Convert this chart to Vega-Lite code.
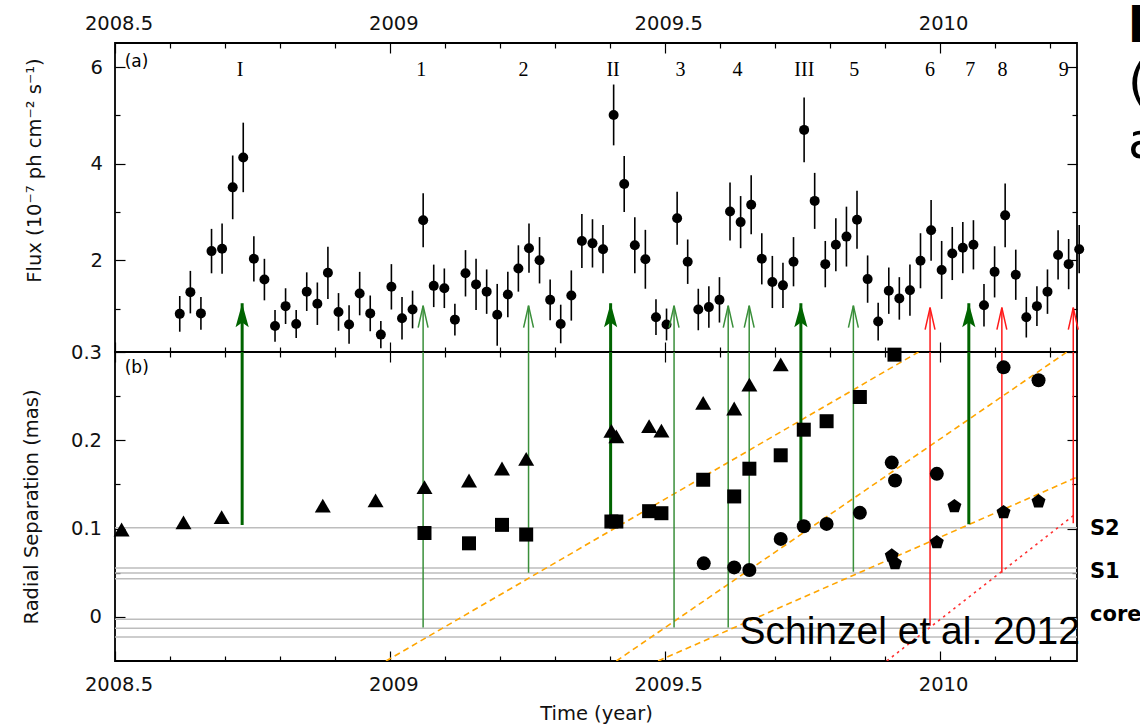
{
"$schema": "https://vega.github.io/schema/vega-lite/v6.json",
"padding": {"left": 20, "top": 2, "right": 0, "bottom": 0},
"background": "white",
"spacing": 0,
"bounds": "flush",
"config": {
  "view": {"stroke": "black", "strokeWidth": 1.8},
  "axis": {"grid": false, "domain": false, "tickColor": "black", "tickWidth": 1.2, "labelFont": "DejaVu Sans", "labelFontSize": 19.5, "labelColor": "#111111", "titleFont": "DejaVu Sans", "titleFontSize": 19.5, "titleFontWeight": "normal", "titleColor": "#111111", "labelFlush": false, "labelOverlap": false}
},
"datasets": {
  "flux": [
{"t":2008.6178,"f":0.89,"lo":0.52,"hi":1.26},
{"t":2008.6371,"f":1.34,"lo":0.90,"hi":1.78},
{"t":2008.6563,"f":0.90,"lo":0.56,"hi":1.24},
{"t":2008.6756,"f":2.19,"lo":1.73,"hi":2.65},
{"t":2008.6948,"f":2.24,"lo":1.72,"hi":2.76},
{"t":2008.7141,"f":3.51,"lo":2.85,"hi":4.17},
{"t":2008.7333,"f":4.13,"lo":3.41,"hi":4.85},
{"t":2008.7526,"f":2.03,"lo":1.56,"hi":2.50},
{"t":2008.7718,"f":1.60,"lo":1.17,"hi":2.03},
{"t":2008.7911,"f":0.64,"lo":0.31,"hi":0.97},
{"t":2008.8103,"f":1.05,"lo":0.68,"hi":1.42},
{"t":2008.8296,"f":0.68,"lo":0.39,"hi":0.97},
{"t":2008.8488,"f":1.35,"lo":0.95,"hi":1.75},
{"t":2008.8681,"f":1.10,"lo":0.66,"hi":1.54},
{"t":2008.8873,"f":1.74,"lo":1.20,"hi":2.28},
{"t":2008.9066,"f":0.93,"lo":0.54,"hi":1.32},
{"t":2008.9258,"f":0.67,"lo":0.27,"hi":1.07},
{"t":2008.9451,"f":1.31,"lo":0.86,"hi":1.76},
{"t":2008.9643,"f":0.90,"lo":0.53,"hi":1.27},
{"t":2008.9836,"f":0.46,"lo":0.18,"hi":0.74},
{"t":2009.0028,"f":1.45,"lo":0.98,"hi":1.92},
{"t":2009.0221,"f":0.80,"lo":0.36,"hi":1.24},
{"t":2009.0413,"f":0.98,"lo":0.59,"hi":1.37},
{"t":2009.0606,"f":2.83,"lo":2.27,"hi":3.39},
{"t":2009.0798,"f":1.47,"lo":1.03,"hi":1.91},
{"t":2009.0991,"f":1.42,"lo":1.01,"hi":1.83},
{"t":2009.1183,"f":0.77,"lo":0.44,"hi":1.10},
{"t":2009.1376,"f":1.73,"lo":1.25,"hi":2.21},
{"t":2009.1568,"f":1.50,"lo":0.97,"hi":2.03},
{"t":2009.1761,"f":1.35,"lo":0.89,"hi":1.81},
{"t":2009.1953,"f":0.87,"lo":0.23,"hi":1.51},
{"t":2009.2146,"f":1.29,"lo":0.82,"hi":1.76},
{"t":2009.2338,"f":1.83,"lo":1.35,"hi":2.31},
{"t":2009.2531,"f":2.25,"lo":1.74,"hi":2.76},
{"t":2009.2723,"f":2.00,"lo":1.52,"hi":2.48},
{"t":2009.2916,"f":1.18,"lo":0.76,"hi":1.60},
{"t":2009.3108,"f":0.68,"lo":0.28,"hi":1.08},
{"t":2009.3301,"f":1.27,"lo":0.75,"hi":1.79},
{"t":2009.3493,"f":2.40,"lo":1.84,"hi":2.96},
{"t":2009.3686,"f":2.35,"lo":1.85,"hi":2.85},
{"t":2009.3878,"f":2.23,"lo":1.73,"hi":2.73},
{"t":2009.4071,"f":5.01,"lo":4.38,"hi":5.64},
{"t":2009.4263,"f":3.58,"lo":3.00,"hi":4.16},
{"t":2009.4456,"f":2.31,"lo":1.73,"hi":2.89},
{"t":2009.4648,"f":2.02,"lo":1.41,"hi":2.63},
{"t":2009.4841,"f":0.82,"lo":0.45,"hi":1.19},
{"t":2009.5033,"f":0.67,"lo":0.34,"hi":1.00},
{"t":2009.5226,"f":2.87,"lo":2.32,"hi":3.42},
{"t":2009.5418,"f":1.97,"lo":1.51,"hi":2.43},
{"t":2009.5611,"f":0.98,"lo":0.55,"hi":1.41},
{"t":2009.5803,"f":1.03,"lo":0.60,"hi":1.46},
{"t":2009.5996,"f":1.18,"lo":0.71,"hi":1.65},
{"t":2009.6188,"f":3.01,"lo":2.41,"hi":3.61},
{"t":2009.6381,"f":2.79,"lo":2.25,"hi":3.33},
{"t":2009.6573,"f":3.15,"lo":2.54,"hi":3.76},
{"t":2009.6766,"f":2.03,"lo":1.50,"hi":2.56},
{"t":2009.6958,"f":1.55,"lo":1.01,"hi":2.09},
{"t":2009.7151,"f":1.48,"lo":1.01,"hi":1.95},
{"t":2009.7343,"f":1.97,"lo":1.46,"hi":2.48},
{"t":2009.7536,"f":4.70,"lo":4.03,"hi":5.37},
{"t":2009.7728,"f":3.23,"lo":2.65,"hi":3.81},
{"t":2009.7921,"f":1.92,"lo":1.44,"hi":2.40},
{"t":2009.8113,"f":2.32,"lo":1.77,"hi":2.87},
{"t":2009.8306,"f":2.49,"lo":1.87,"hi":3.11},
{"t":2009.8498,"f":2.84,"lo":2.24,"hi":3.44},
{"t":2009.8691,"f":1.61,"lo":1.12,"hi":2.10},
{"t":2009.8883,"f":0.73,"lo":0.34,"hi":1.12},
{"t":2009.9076,"f":1.37,"lo":0.89,"hi":1.85},
{"t":2009.9268,"f":1.21,"lo":0.77,"hi":1.65},
{"t":2009.9461,"f":1.38,"lo":0.85,"hi":1.91},
{"t":2009.9653,"f":1.99,"lo":1.42,"hi":2.56},
{"t":2009.9846,"f":2.62,"lo":1.99,"hi":3.25},
{"t":2010.0038,"f":1.80,"lo":1.20,"hi":2.40},
{"t":2010.0231,"f":2.14,"lo":1.59,"hi":2.69},
{"t":2010.0423,"f":2.26,"lo":1.73,"hi":2.79},
{"t":2010.0616,"f":2.32,"lo":1.81,"hi":2.83},
{"t":2010.0808,"f":1.07,"lo":0.63,"hi":1.51},
{"t":2010.1001,"f":1.76,"lo":1.23,"hi":2.29},
{"t":2010.1193,"f":2.93,"lo":2.27,"hi":3.59},
{"t":2010.1386,"f":1.70,"lo":1.18,"hi":2.22},
{"t":2010.1578,"f":0.82,"lo":0.40,"hi":1.24},
{"t":2010.1771,"f":1.05,"lo":0.64,"hi":1.46},
{"t":2010.1963,"f":1.35,"lo":0.89,"hi":1.81},
{"t":2010.2156,"f":2.11,"lo":1.60,"hi":2.62},
{"t":2010.2348,"f":1.92,"lo":1.40,"hi":2.44},
{"t":2010.254,"f":2.23,"lo":1.73,"hi":2.73}
  ],
  "arrows": [
{"t":2008.7313,"tip":1.11,"end":0.104,"kind":"thick"},
{"t":2009.0605,"tip":1.06,"end":-0.012,"kind":"thin"},
{"t":2009.2523,"tip":1.06,"end":0.050,"kind":"thin"},
{"t":2009.4016,"tip":1.11,"end":0.107,"kind":"thick"},
{"t":2009.517,"tip":1.06,"end":-0.012,"kind":"thin"},
{"t":2009.6155,"tip":1.06,"end":-0.012,"kind":"thin"},
{"t":2009.6537,"tip":1.06,"end":0.052,"kind":"thin"},
{"t":2009.7477,"tip":1.11,"end":0.103,"kind":"thick"},
{"t":2009.8432,"tip":1.06,"end":0.051,"kind":"thin"},
{"t":2009.9827,"tip":1.02,"end":-0.010,"kind":"red"},
{"t":2010.0532,"tip":1.11,"end":0.105,"kind":"thick"},
{"t":2010.1133,"tip":1.02,"end":0.050,"kind":"red"},
{"t":2010.2432,"tip":1.02,"end":0.106,"kind":"red"}
  ],
  "labels": [
{"t":2008.7277,"f":5.82,"lab":"I"},{"t":2009.057,"f":5.82,"lab":"1"},{"t":2009.2432,"f":5.82,"lab":"2"},{"t":2009.406,"f":5.82,"lab":"II"},
{"t":2009.5286,"f":5.82,"lab":"3"},{"t":2009.6324,"f":5.82,"lab":"4"},{"t":2009.754,"f":5.82,"lab":"III"},{"t":2009.845,"f":5.82,"lab":"5"},
{"t":2009.9827,"f":5.82,"lab":"6"},{"t":2010.0556,"f":5.82,"lab":"7"},{"t":2010.1146,"f":5.82,"lab":"8"},{"t":2010.2257,"f":5.82,"lab":"9"}
  ],
  "notesA": [{"t":2008.5177,"f":6.11,"txt":"(a)"}],
  "notesK": [{"t":2010.25,"f":6.53,"txt":"k"}],
  "notesP": [{"t":2010.25,"f":5.35,"txt":"("},{"t":2010.25,"f":4.12,"txt":"a"}],
  "hlines": [{"r":0.1008},{"r":0.0553},{"r":0.0497},{"r":0.0432},{"r":-0.0026},{"r":-0.0128},{"r":-0.0227}],
  "olines": [
{"g":"A","t":2008.993,"r":-0.05},{"g":"A","t":2009.9616,"r":0.3},
{"g":"B","t":2009.412,"r":-0.05},{"g":"B","t":2010.2317,"r":0.3},
{"g":"C","t":2009.488,"r":-0.05},{"g":"C","t":2010.25,"r":0.1583}
  ],
  "rline": [{"t":2009.904,"r":-0.05},{"t":2010.244,"r":0.115}],
  "sep": [
{"s":"triangle","t":2008.512,"r":0.0989},{"s":"triangle","t":2008.6246,"r":0.107},{"s":"triangle","t":2008.694,"r":0.113},
{"s":"triangle","t":2008.878,"r":0.126},{"s":"triangle","t":2008.974,"r":0.132},{"s":"triangle","t":2009.063,"r":0.147},
{"s":"triangle","t":2009.144,"r":0.1545},{"s":"triangle","t":2009.204,"r":0.168},{"s":"triangle","t":2009.248,"r":0.179},
{"s":"triangle","t":2009.403,"r":0.2106},{"s":"triangle","t":2009.412,"r":0.2045},{"s":"triangle","t":2009.4716,"r":0.216},
{"s":"triangle","t":2009.494,"r":0.211},{"s":"triangle","t":2009.570,"r":0.2424},{"s":"triangle","t":2009.6264,"r":0.236},
{"s":"triangle","t":2009.654,"r":0.263},{"s":"triangle","t":2009.711,"r":0.286},
{"s":"square","t":2009.063,"r":0.095},{"s":"square","t":2009.144,"r":0.0833},{"s":"square","t":2009.204,"r":0.1042},
{"s":"square","t":2009.248,"r":0.0932},{"s":"square","t":2009.403,"r":0.108},{"s":"square","t":2009.412,"r":0.108},
{"s":"square","t":2009.4716,"r":0.1197},{"s":"square","t":2009.494,"r":0.1174},{"s":"square","t":2009.570,"r":0.1553},
{"s":"square","t":2009.6264,"r":0.1364},{"s":"square","t":2009.654,"r":0.1678},{"s":"square","t":2009.711,"r":0.183},
{"s":"square","t":2009.753,"r":0.212},{"s":"square","t":2009.7945,"r":0.2216},{"s":"square","t":2009.855,"r":0.249},
{"s":"square","t":2009.918,"r":0.297},
{"s":"circle","t":2009.571,"r":0.0606},{"s":"circle","t":2009.6264,"r":0.056},{"s":"circle","t":2009.654,"r":0.053},
{"s":"circle","t":2009.711,"r":0.0883},{"s":"circle","t":2009.753,"r":0.1026},{"s":"circle","t":2009.7945,"r":0.1053},
{"s":"circle","t":2009.855,"r":0.1178},{"s":"circle","t":2009.913,"r":0.1747},{"s":"circle","t":2009.919,"r":0.1545},
{"s":"circle","t":2009.995,"r":0.162},{"s":"circle","t":2010.1164,"r":0.2826},{"s":"circle","t":2010.180,"r":0.268},
{"s":"pentagon","t":2009.913,"r":0.0693},{"s":"pentagon","t":2009.919,"r":0.0606},{"s":"pentagon","t":2009.995,"r":0.0845},
{"s":"pentagon","t":2010.027,"r":0.1253},{"s":"pentagon","t":2010.1164,"r":0.1185},{"s":"pentagon","t":2010.180,"r":0.1307}
  ],
  "comp": [{"t":2010.25,"c":"S2","r":0.1},{"t":2010.25,"c":"S1","r":0.051},{"t":2010.25,"c":"core","r":0.002}],
  "notesB": [{"t":2008.5177,"r":0.2818,"txt":"(b)"}],
  "notesS": [{"t":2009.636,"r":-0.031,"txt":"Schinzel et al. 2012"}]
},
"vconcat": [
 {
  "width": 962, "height": 309,
  "resolve": {"axis": {"x": "independent", "y": "independent"}},
  "layer": [
   {"data": {"name": "flux"}, "mark": {"type": "rule", "strokeWidth": 1.6, "color": "black", "clip": false},
    "encoding": {
     "x": {"field": "t", "type": "quantitative", "scale": {"domain": [2008.5, 2010.25], "nice": false, "zero": false},
           "axis": {"orient": "top", "values": [2008.5, 2009, 2009.5, 2010], "tickSize": -10, "labelPadding": 20, "labelOffset": 3.5, "labelExpr": "''+datum.value", "title": null}},
     "y": {"field": "lo", "type": "quantitative", "scale": {"domain": [0.1, 6.5], "nice": false, "zero": false},
           "axis": {"orient": "left", "values": [2, 4, 6], "tickSize": -10, "labelPadding": 22.6, "labelExpr": "''+datum.value", "title": "Flux (10⁻⁷ ph cm⁻² s⁻¹)", "titleAngle": 270, "titleAlign": "center", "titleBaseline": "middle", "titleX": -81, "titleY": 127}},
     "y2": {"field": "hi"}
    }},
   {"data": {"name": "flux"}, "mark": {"type": "circle", "size": 100, "opacity": 1, "color": "black", "clip": false},
    "encoding": {
     "x": {"field": "t", "type": "quantitative", "scale": {"domain": [2008.5, 2010.25], "nice": false, "zero": false},
           "axis": {"orient": "top", "values": [2008.6,2008.7,2008.8,2008.9,2009.1,2009.2,2009.3,2009.4,2009.6,2009.7,2009.8,2009.9,2010.1,2010.2], "tickSize": -5, "labels": false, "title": null}},
     "y": {"field": "f", "type": "quantitative", "scale": {"domain": [0.1, 6.5], "nice": false, "zero": false},
           "axis": {"orient": "left", "values": [1, 3, 5], "tickSize": -5, "labels": false, "title": null}}
    }},
   {"data": {"name": "arrows"}, "transform": [{"filter": "datum.kind == 'thick'"}],
    "mark": {"type": "rule", "strokeWidth": 3, "color": "#006400", "clip": true},
    "encoding": {
     "x": {"field": "t", "type": "quantitative", "scale": {"domain": [2008.5, 2010.25], "nice": false, "zero": false},
           "axis": {"orient": "bottom", "values": [2008.5, 2009, 2009.5, 2010], "tickSize": -10, "labels": false, "title": null}},
     "y": {"field": "tip", "type": "quantitative", "scale": {"domain": [0.1, 6.5], "nice": false, "zero": false},
           "axis": {"orient": "right", "values": [2, 4, 6], "tickSize": -10, "labels": false, "title": null}},
     "y2": {"field": "end"}
    }},
   {"data": {"name": "arrows"}, "transform": [{"filter": "datum.kind != 'thick'"}],
    "mark": {"type": "rule", "strokeWidth": 1.5, "clip": true},
    "encoding": {
     "x": {"field": "t", "type": "quantitative", "scale": {"domain": [2008.5, 2010.25], "nice": false, "zero": false},
           "axis": {"orient": "bottom", "values": [2008.6,2008.7,2008.8,2008.9,2009.1,2009.2,2009.3,2009.4,2009.6,2009.7,2009.8,2009.9,2010.1,2010.2], "tickSize": -5, "labels": false, "title": null}},
     "y": {"field": "tip", "type": "quantitative", "scale": {"domain": [0.1, 6.5], "nice": false, "zero": false},
           "axis": {"orient": "right", "values": [1, 3, 5], "tickSize": -5, "labels": false, "title": null}},
     "y2": {"field": "end"},
     "color": {"field": "kind", "type": "nominal", "scale": {"domain": ["thick", "thin", "red"], "range": ["#006400", "#3a8f3a", "#ff1a1a"]}, "legend": null}
    }},
   {"data": {"name": "arrows"}, "transform": [{"filter": "datum.kind == 'thick'"}],
    "mark": {"type": "point", "shape": "M0,0L0.55,2L0,1.6L-0.55,2Z", "size": 576, "filled": true, "color": "#006400", "opacity": 1, "strokeWidth": 0},
    "encoding": {
     "x": {"field": "t", "type": "quantitative", "axis": null},
     "y": {"field": "tip", "type": "quantitative", "axis": null}
    }},
   {"data": {"name": "arrows"}, "transform": [{"filter": "datum.kind != 'thick'"}],
    "mark": {"type": "point", "shape": "M-0.45,2L0,0L0.45,2", "size": 484, "filled": false, "strokeWidth": 1.5, "opacity": 1},
    "encoding": {
     "x": {"field": "t", "type": "quantitative", "axis": null},
     "y": {"field": "tip", "type": "quantitative", "axis": null},
     "color": {"field": "kind", "type": "nominal", "scale": {"domain": ["thick", "thin", "red"], "range": ["#006400", "#3a8f3a", "#ff1a1a"]}, "legend": null}
    }},
   {"data": {"name": "labels"}, "mark": {"type": "text", "font": "Liberation Serif", "fontSize": 20, "baseline": "alphabetic", "align": "center", "color": "black"},
    "encoding": {
     "x": {"field": "t", "type": "quantitative", "axis": null},
     "y": {"field": "f", "type": "quantitative", "axis": null},
     "text": {"field": "lab", "type": "nominal"}
    }},
   {"data": {"name": "notesA"}, "mark": {"type": "text", "font": "DejaVu Sans", "fontSize": 17, "baseline": "middle", "align": "left", "color": "black"},
    "encoding": {
     "x": {"field": "t", "type": "quantitative", "axis": null},
     "y": {"field": "f", "type": "quantitative", "axis": null},
     "text": {"field": "txt", "type": "nominal"}
    }},
   {"data": {"name": "notesK"}, "mark": {"type": "text", "font": "DejaVu Sans", "fontWeight": "bold", "fontSize": 48, "baseline": "alphabetic", "align": "left", "dx": 51, "color": "black"},
    "encoding": {
     "x": {"field": "t", "type": "quantitative", "axis": null},
     "y": {"field": "f", "type": "quantitative", "axis": null},
     "text": {"field": "txt", "type": "nominal"}
    }},
   {"data": {"name": "notesP"}, "mark": {"type": "text", "font": "DejaVu Sans", "fontSize": 50, "baseline": "alphabetic", "align": "left", "dx": 51, "color": "black"},
    "encoding": {
     "x": {"field": "t", "type": "quantitative", "axis": null},
     "y": {"field": "f", "type": "quantitative", "axis": null},
     "text": {"field": "txt", "type": "nominal"}
    }}
  ]
 },
 {
  "width": 962, "height": 309,
  "resolve": {"axis": {"x": "independent", "y": "independent"}},
  "layer": [
   {"data": {"name": "hlines"}, "mark": {"type": "rule", "color": "#bdbdbd", "strokeWidth": 1.5},
    "encoding": {
     "y": {"field": "r", "type": "quantitative", "scale": {"domain": [-0.05, 0.3], "nice": false, "zero": false},
           "axis": {"orient": "left", "values": [0, 0.1, 0.2, 0.3], "tickSize": -10, "labelPadding": 23.5, "labelExpr": "''+datum.value", "title": "Radial Separation (mas)", "titleAngle": 270, "titleAlign": "center", "titleBaseline": "middle", "titleX": -83.3, "titleY": 154.5}}
    }},
   {"data": {"name": "olines"}, "mark": {"type": "line", "color": "#ffa500", "strokeWidth": 1.6, "strokeDash": [6, 4], "clip": true},
    "encoding": {
     "x": {"field": "t", "type": "quantitative", "scale": {"domain": [2008.5, 2010.25], "nice": false, "zero": false},
           "axis": {"orient": "bottom", "values": [2008.5, 2009, 2009.5, 2010], "tickSize": -10, "labelPadding": 24, "labelOffset": 3.5, "labelExpr": "''+datum.value", "title": "Time (year)", "titleY": 52, "titleBaseline": "middle"}},
     "y": {"field": "r", "type": "quantitative", "scale": {"domain": [-0.05, 0.3], "nice": false, "zero": false},
           "axis": {"orient": "left", "values": [0.05, 0.15, 0.25], "tickSize": -5, "labels": false, "title": null}},
     "detail": {"field": "g", "type": "nominal"}
    }},
   {"data": {"name": "rline"}, "mark": {"type": "line", "color": "#ff3030", "strokeWidth": 1.6, "strokeDash": [2.5, 4], "clip": true},
    "encoding": {
     "x": {"field": "t", "type": "quantitative", "scale": {"domain": [2008.5, 2010.25], "nice": false, "zero": false},
           "axis": {"orient": "bottom", "values": [2008.6,2008.7,2008.8,2008.9,2009.1,2009.2,2009.3,2009.4,2009.6,2009.7,2009.8,2009.9,2010.1,2010.2], "tickSize": -5, "labels": false, "title": null}},
     "y": {"field": "r", "type": "quantitative", "scale": {"domain": [-0.05, 0.3], "nice": false, "zero": false},
           "axis": {"orient": "right", "values": [0, 0.1, 0.2, 0.3], "tickSize": -10, "labels": false, "title": null}}
    }},
   {"data": {"name": "arrows"}, "transform": [{"filter": "datum.kind == 'thick'"}],
    "mark": {"type": "rule", "strokeWidth": 3, "color": "#006400", "clip": true},
    "encoding": {
     "x": {"field": "t", "type": "quantitative", "scale": {"domain": [2008.5, 2010.25], "nice": false, "zero": false},
           "axis": {"orient": "top", "values": [2008.5, 2009, 2009.5, 2010], "tickSize": -10, "labels": false, "title": null}},
     "y": {"field": "tip", "type": "quantitative", "scale": {"domain": [-0.05, 0.3], "nice": false, "zero": false},
           "axis": {"orient": "right", "values": [0.05, 0.15, 0.25], "tickSize": -5, "labels": false, "title": null}},
     "y2": {"field": "end"}
    }},
   {"data": {"name": "arrows"}, "transform": [{"filter": "datum.kind != 'thick'"}],
    "mark": {"type": "rule", "strokeWidth": 1.5, "clip": true},
    "encoding": {
     "x": {"field": "t", "type": "quantitative", "scale": {"domain": [2008.5, 2010.25], "nice": false, "zero": false},
           "axis": {"orient": "top", "values": [2008.6,2008.7,2008.8,2008.9,2009.1,2009.2,2009.3,2009.4,2009.6,2009.7,2009.8,2009.9,2010.1,2010.2], "tickSize": -5, "labels": false, "title": null}},
     "y": {"field": "tip", "type": "quantitative", "axis": null},
     "y2": {"field": "end"},
     "color": {"field": "kind", "type": "nominal", "scale": {"domain": ["thick", "thin", "red"], "range": ["#006400", "#3a8f3a", "#ff1a1a"]}, "legend": null}
    }},
   {"data": {"name": "sep"}, "transform": [{"filter": "datum.s == 'triangle'"}], "mark": {"type": "point", "shape": "triangle-up", "size": 256, "filled": true, "opacity": 1, "color": "black", "clip": false},
    "encoding": {
     "x": {"field": "t", "type": "quantitative", "axis": null},
     "y": {"field": "r", "type": "quantitative", "axis": null}
    }},
   {"data": {"name": "sep"}, "transform": [{"filter": "datum.s != 'triangle'"}], "mark": {"type": "point", "size": 196, "filled": true, "opacity": 1, "color": "black", "clip": false},
    "encoding": {
     "x": {"field": "t", "type": "quantitative", "axis": null},
     "y": {"field": "r", "type": "quantitative", "axis": null},
     "shape": {"field": "s", "type": "nominal", "scale": {"domain": ["square", "circle", "pentagon"], "range": ["square", "circle", "M0,-1.05L1,-0.32L0.62,0.85L-0.62,0.85L-1,-0.32Z"]}, "legend": null}
    }},
   {"data": {"name": "comp"}, "mark": {"type": "text", "font": "DejaVu Sans", "fontWeight": "bold", "fontSize": 21, "baseline": "middle", "align": "left", "dx": 13, "color": "black"},
    "encoding": {
     "x": {"field": "t", "type": "quantitative", "axis": null},
     "y": {"field": "r", "type": "quantitative", "axis": null},
     "text": {"field": "c", "type": "nominal"}
    }},
   {"data": {"name": "notesB"}, "mark": {"type": "text", "font": "DejaVu Sans", "fontSize": 17, "baseline": "middle", "align": "left", "color": "black"},
    "encoding": {
     "x": {"field": "t", "type": "quantitative", "axis": null},
     "y": {"field": "r", "type": "quantitative", "axis": null},
     "text": {"field": "txt", "type": "nominal"}
    }},
   {"data": {"name": "notesS"}, "mark": {"type": "text", "font": "Liberation Sans", "fontSize": 39, "baseline": "alphabetic", "align": "left", "color": "black"},
    "encoding": {
     "x": {"field": "t", "type": "quantitative", "axis": null},
     "y": {"field": "r", "type": "quantitative", "axis": null},
     "text": {"field": "txt", "type": "nominal"}
    }}
  ]
 }
]
}
